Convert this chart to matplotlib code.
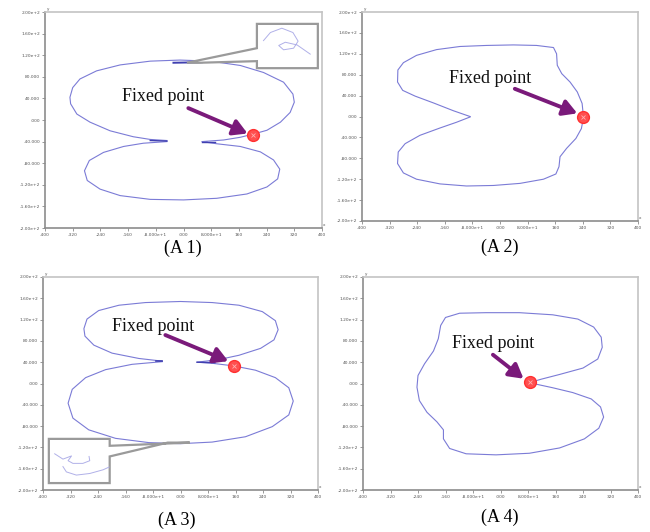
import matplotlib.pyplot as plt
from matplotlib.patches import Polygon

# axis ticks shared by all four panels
x_ticks = [-400, -320, -240, -160, -80, 0, 80, 160, 240, 320, 400]
x_labels = ["-400", "-320", "-240", "-160", "-8.000e+1", ".000", "8.000e+1",
            "160", "240", "320", "400"]
y_ticks = [-200, -160, -120, -80, -40, 0, 40, 80, 120, 160, 200]
y_labels = ["-2.00e+2", "-1.60e+2", "-1.20e+2", "-80.000", "-40.000", ".000",
            "40.000", "80.000", "1.20e+2", "1.60e+2", "2.00e+2"]

# (A 1) trajectory
a1_x = [-48, -96, -145, -212, -270, -308, -326, -328, -320, -299, -251, -183, -96, -10,
        77, 164, 231, 289, 316, 320, 308, 280, 241, 202, 164, 116, 53,
        96, 164, 222, 260, 278, 272, 241, 183, 96, 0, -96, -183, -241, -278, -286,
        -272, -231, -173, -116, -48]
a1_y = [-38, -36, -31, -20, -4, 11, 30, 42, 60, 76, 91, 102, 109, 111,
        109, 101, 88, 70, 48, 33, 14, -4, -19, -26, -32, -37, -40,
        -44, -49, -59, -74, -91, -109, -124, -137, -145, -148, -147, -140, -128, -112, -94,
        -75, -60, -49, -43, -40]
a1_fixed = (202, -28)
a1_zoom_x = [231, 251, 284, 316, 331, 318, 289, 275, 294, 328, 366]
a1_zoom_y = [147, 162, 170, 162, 146, 133, 130, 138, 144, 139, 122]

# (A 2)
a2_x = [-87, -135, -193, -246, -282, -297, -296, -280, -242, -184, -116, -39, 39, 106,
        155, 164, 166, 179, 203, 224, 238, 242, 236, 220, 193, 174, 171, 162, 126, 58,
        -19, -97, -174, -242, -280, -297, -295, -275, -232, -174, -126, -87]
a2_y = [0, 11, 26, 39, 50, 66, 89, 103, 117, 128, 134, 136, 137, 136,
        132, 120, 98, 82, 66, 47, 25, -1, -23, -42, -61, -77, -96, -110, -120, -128,
        -132, -133, -129, -120, -108, -90, -68, -52, -36, -22, -11, -1]
a2_fixed = (242, 0)

# (A 3)
a3_x = [-53, -121, -199, -252, -278, -281, -272, -238, -179, -102, 0, 92, 170, 238,
        276, 284, 272, 233, 170, 112, 48,
        92, 155, 218, 276, 315, 328, 315, 267, 189, 92, 0, -92, -189, -267, -313,
        -327, -315, -276, -218, -141, -53]
a3_y = [42, 47, 57, 72, 89, 103, 121, 137, 147, 152, 154, 152, 147, 135,
        118, 101, 82, 66, 53, 45, 40,
        38, 33, 25, 11, -8, -33, -59, -81, -100, -110, -113, -111, -103, -87, -65,
        -37, -11, 11, 26, 36, 41]
a3_fixed = (155, 33)
a3_zoom1_x = [-366, -342, -317, -327, -313, -284, -264, -266]
a3_zoom1_y = [-132, -142, -136, -145, -150, -150, -145, -137]
a3_zoom2_x = [-342, -332, -303, -264, -225, -208]
a3_zoom2_y = [-156, -166, -172, -169, -162, -157]

# (A 4)
a4_x = [86, 118, 172, 240, 283, 296, 293, 271, 225, 152, 55, -42, -119, -160,
        -174, -181, -195, -221, -240, -243, -236, -214, -185, -166, -166, -148, -100,
        -13, 84, 172, 244, 286, 300, 291, 264, 210, 152, 109, 86]
a4_y = [2, 8, 17, 29, 46, 68, 87, 106, 121, 129, 133, 133, 132, 124,
        109, 84, 61, 37, 15, -7, -32, -54, -72, -87, -104, -122, -132,
        -134, -131, -121, -104, -84, -63, -44, -29, -17, -8, -2, 1]
a4_fixed = (86, 2)

line_col = '#7b7bd6'
dark_col = '#4040b0'
box_col = '#9a9a9a'


def setup(ax):
    ax.set_xlim(-400, 400)
    ax.set_ylim(-200, 200)
    ax.set_xticks(x_ticks)
    ax.set_xticklabels(x_labels, fontsize=3.2, color='#555555')
    ax.set_yticks(y_ticks)
    ax.set_yticklabels(y_labels, fontsize=3.2, color='#555555')
    ax.tick_params(length=2, width=0.6, color='#888888', pad=1.5)
    for s in ['top', 'right']:
        ax.spines[s].set_color('#c4c4c4')
        ax.spines[s].set_linewidth(1.2)
    for s in ['left', 'bottom']:
        ax.spines[s].set_color('#8c8c8c')
        ax.spines[s].set_linewidth(1.2)
    ax.text(1.004, 0.006, 'x', transform=ax.transAxes, fontsize=3, ha='left', va='bottom', color='#555555')
    ax.text(0.008, 1.004, 'y', transform=ax.transAxes, fontsize=3, ha='left', va='bottom', color='#555555')


def fixed(ax, pt, txt_pos, tail, head):
    ax.annotate('', xy=head, xytext=tail,
                arrowprops=dict(arrowstyle='-|>,head_length=0.7,head_width=0.4',
                                color='#7a1a7a', lw=2.8, mutation_scale=12,
                                shrinkA=0, shrinkB=0), zorder=5)
    ax.plot([pt[0]], [pt[1]], 'o', color='#ff5050', ms=8.5, mec='#ff3030', zorder=6)
    ax.plot([pt[0]], [pt[1]], 'x', color='#ffb0b0', ms=3, mew=0.6, zorder=7)
    ax.text(txt_pos[0], txt_pos[1], 'Fixed point', family='Liberation Serif', fontsize=13,
            ha='center', va='center', color='#111111', zorder=5)


fig = plt.figure(figsize=(6.5, 5.32), dpi=100)
ax1 = fig.add_axes([45 / 650, 1 - 228 / 532, 277 / 650, 216 / 532])
ax2 = fig.add_axes([362 / 650, 1 - 221 / 532, 276 / 650, 209 / 532])
ax3 = fig.add_axes([43 / 650, 1 - 490 / 532, 275 / 650, 213 / 532])
ax4 = fig.add_axes([363 / 650, 1 - 490 / 532, 275 / 650, 213 / 532])

for ax in [ax1, ax2, ax3, ax4]:
    setup(ax)

# A1
ax1.plot(a1_x, a1_y, color=line_col, lw=0.8)
ax1.plot([-29, 53], [106, 107], color=dark_col, lw=1.4)
ax1.plot([-96, -48], [-38, -39], color=dark_col, lw=1.0)
ax1.plot([53, 90], [-40, -40], color=dark_col, lw=1.0)
call1 = Polygon([(10, 106), (212, 133), (212, 178), (388, 178), (388, 96), (212, 96),
                 (212, 109), (45, 106)], closed=True, facecolor='white',
                edgecolor=box_col, lw=1.6, zorder=3)
ax1.add_patch(call1)
ax1.plot(a1_zoom_x, a1_zoom_y, color='#b0b0e8', lw=0.7, zorder=4)
fixed(ax1, a1_fixed, (-58, 43), (14, 22), (185, -25))

# A2
ax2.plot(a2_x, a2_y, color=line_col, lw=0.8)
fixed(ax2, a2_fixed, (-28, 73), (43, 53), (224, 6))

# A3
ax3.plot(a3_x, a3_y, color=line_col, lw=0.8)
ax3.plot([-40, 24], [-112, -112], color=dark_col, lw=1.4)
ax3.plot([-70, -53], [42, 42], color=dark_col, lw=1.2)
ax3.plot([48, 100], [40, 39], color=dark_col, lw=1.0)
call3 = Polygon([(27, -111), (-206, -117), (-206, -104), (-383, -104), (-383, -187),
                 (-206, -187), (-206, -137), (-37, -111)], closed=True,
                facecolor='white', edgecolor=box_col, lw=1.6, zorder=3)
ax3.add_patch(call3)
ax3.plot(a3_zoom1_x, a3_zoom1_y, color='#b0b0e8', lw=0.7, zorder=4)
ax3.plot(a3_zoom2_x, a3_zoom2_y, color='#b0b0e8', lw=0.7, zorder=4)
fixed(ax3, a3_fixed, (-80, 107), (-44, 91), (139, 42))

# A4
ax4.plot(a4_x, a4_y, color=line_col, lw=0.8)
fixed(ax4, a4_fixed, (-22, 76), (-22, 54), (67, 9))

caps = [("(A 1)", 183, 248), ("(A 2)", 500, 247), ("(A 3)", 177, 520), ("(A 4)", 500, 517)]
for c, px, py in caps:
    fig.text(px / 650, 1 - py / 532, c, family='Liberation Serif', fontsize=13,
             ha='center', va='center')

fig.savefig('out.png', dpi=100)
